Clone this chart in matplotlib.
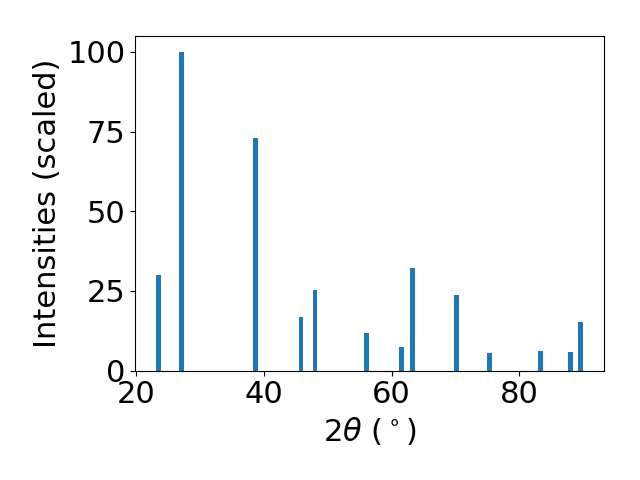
import numpy as np
import matplotlib.pyplot as plt
import matplotlib as mpl

mpl.rcParams.update({
    'font.size': 22,
})

# Peak positions (2theta, degrees) and scaled intensities
two_theta = [23.5, 27.1, 38.7, 45.8, 48.0, 56.1, 61.6, 63.3, 70.2, 75.3, 83.3, 88.0, 89.6]
intensity = [30.1, 100.0, 73.1, 16.9, 25.3, 11.8, 7.4, 32.3, 23.8, 5.6, 6.2, 5.9, 15.3]

fig, ax = plt.subplots(figsize=(6.4, 4.8), dpi=100)
ax.bar(two_theta, intensity, width=0.75, color='#1f77b4')

ax.set_xlabel(r'2$\theta$ ($^\circ$)')
ax.set_ylabel('Intensities (scaled)')
ax.set_yticks([0, 25, 50, 75, 100])

plt.subplots_adjust(left=0.211, right=0.944, top=0.925, bottom=0.228)
plt.savefig('out.png', dpi=100)
